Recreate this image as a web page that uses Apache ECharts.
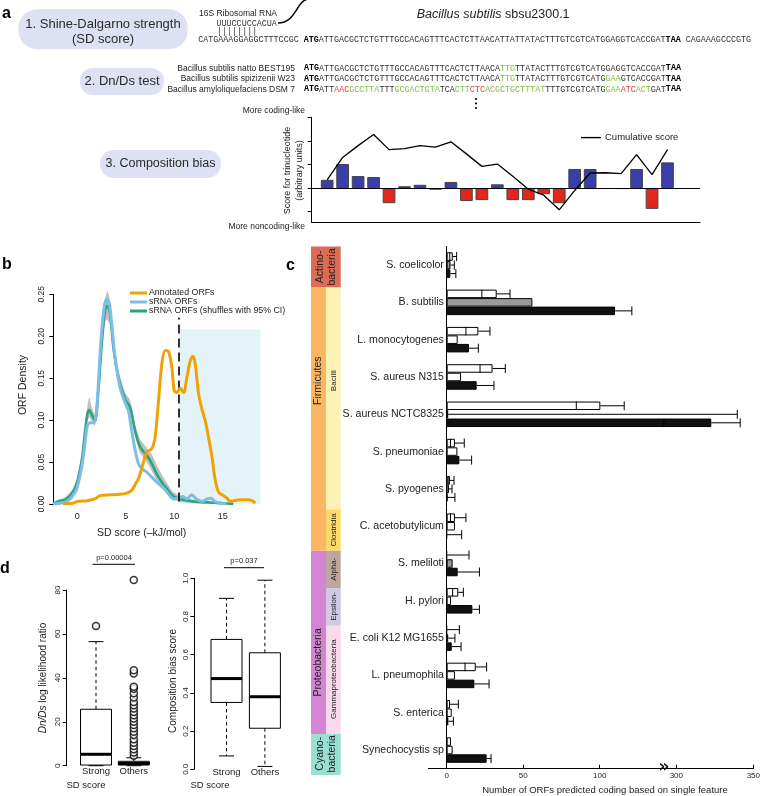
<!DOCTYPE html>
<html><head><meta charset="utf-8">
<script src="https://cdn.jsdelivr.net/npm/echarts@6/dist/echarts.min.js"></script>
<style>html,body{margin:0;padding:0;background:#fff}#c{width:762px;height:796px}</style>
</head><body><div id="c"></div>
<script>
// ---------------- DATA ----------------
// Panel a: composition bias (trinucleotide windows)
const compPos = [1,2,3,4,5,6,7,8,9,10,11,12,13,14,15,16,17,18,19,20,21,22,23];
const compScore = [0.35,1.02,0.51,0.47,-0.64,0.08,0.14,-0.07,0.26,-0.55,-0.51,0.16,-0.51,-0.51,-0.26,-0.64,0.81,0.81,null,-0.04,0.81,-0.88,1.09];
const compCumulative = [0.35,1.3,1.8,2.27,1.63,1.67,1.8,1.74,1.96,1.45,0.92,1.02,0.5,-0.05,-0.3,-0.92,-0.1,0.64,0.65,0.61,1.42,0.57,1.63];
const compTicks = [-1,0,1,2,3];

// Panel b: ORF density curves
const orangeX = [-1.5,-0.5,0.04,1.0,1.8,2.35,3.4,4.4,5.1,5.6,5.96,6.3,6.64,7.17,7.69,8.03,8.38,8.72,9.07,9.41,9.76,10.0,10.28,10.62,10.97,11.31,11.66,11.93,12.17,12.52,12.86,13.21,13.55,13.9,14.24,14.59,15.1,15.45,15.79,16.14,16.83,17.52,18.03,18.38];
const orangeY = [0,0.001,0.003,0.004,0.006,0.01,0.011,0.0115,0.013,0.016,0.023,0.03,0.042,0.062,0.066,0.08,0.123,0.167,0.183,0.182,0.163,0.135,0.133,0.138,0.133,0.151,0.171,0.176,0.167,0.131,0.113,0.099,0.079,0.056,0.028,0.014,0.010,0.007,0.003,0.004,0.005,0.005,0.004,0.001];
const blueX = [-2.5,-1.8,-1.1,-0.6,-0.07,0.45,0.79,1.03,1.31,1.66,1.93,2.17,2.41,2.76,3.03,3.31,3.55,3.9,4.41,4.93,5.28,5.62,5.97,6.31,6.66,7.17,7.69,8.2,8.9,9.41,9.93,10.45,10.9,11.3,11.8,12.3,12.9,13.4,13.8,14.2,14.8,15.4];
const blueY = [0,0.001,0.003,0.008,0.018,0.044,0.072,0.093,0.097,0.097,0.107,0.143,0.19,0.234,0.244,0.238,0.215,0.175,0.139,0.121,0.111,0.087,0.064,0.048,0.042,0.038,0.032,0.026,0.019,0.012,0.006,0.007,0.009,0.006,0.011,0.006,0.003,0.006,0.007,0.003,0.001,0];
const greenX = [-2.5,-1.97,-1.28,-0.59,-0.07,0.45,0.79,1.03,1.24,1.48,1.83,2.17,2.52,2.86,3.1,3.38,3.72,4.24,4.93,5.45,5.97,6.48,7.17,7.69,8.38,9.24,9.93,10.97,12.0,13.38,14.76,16.1];
const greenY = [0,0.003,0.005,0.012,0.024,0.052,0.085,0.107,0.112,0.107,0.099,0.135,0.191,0.231,0.236,0.227,0.187,0.151,0.125,0.115,0.087,0.068,0.058,0.048,0.032,0.018,0.009,0.005,0.003,0.002,0.001,0];
const ciLow  = [0,0.001,0.003,0.009,0.02,0.046,0.078,0.099,0.103,0.099,0.093,0.127,0.18,0.217,0.22,0.213,0.177,0.143,0.118,0.107,0.08,0.061,0.05,0.039,0.024,0.012,0.005,0.002,0.001,0,0,0];
const ciHigh = [0.002,0.005,0.008,0.016,0.029,0.058,0.092,0.116,0.127,0.116,0.106,0.144,0.203,0.245,0.254,0.242,0.198,0.16,0.133,0.124,0.095,0.077,0.067,0.059,0.042,0.025,0.014,0.008,0.005,0.003,0.002,0.001];
const sdThreshold = 10.5;
const strongRegion = [10.5, 18.9, 0.208];
const densityXTicks = [0,5,10,15];

// Panel c: ORFs predicted coding per species
const species = ['S. coelicolor','B. subtilis','L. monocytogenes','S. aureus N315','S. aureus NCTC8325','S. pneumoniae','S. pyogenes','C. acetobutylicum','S. meliloti','H. pylori','E. coli K12 MG1655','L. pneumophila','S. enterica','Synechocystis sp'];
const row1Outer = [4,32.7,20.7,30,100.4,5.4,2.2,5.4,0,7.6,0,19,2.2,2.8];
const row1Inner = [2,23,12.6,21.8,84.7,2.5,1,2.5,null,3.9,null,12,null,null];
const row1Err   = [6.5,41.4,28.3,38.3,116,11.5,4.8,12.6,14.6,10.9,8.3,26.1,7.6,null];
const row2      = [2.5,56,7.2,9.4,1,7,1.5,5.4,3.9,2.8,1,5.4,3.3,3.9];
const row2Err   = [5,null,null,null,339.6,null,3.5,null,null,null,5.4,null,null,null];
const row3      = [2.4,110,14.6,19.6,322.7,8.3,0.5,0,7.2,16.8,3.3,18.1,1.1,26.1];
const row3Err   = [6,121,20.7,30.9,341.5,16.3,5.4,9.8,21.4,21.4,9.4,27.7,4.4,29];
const greySpecies = ['S. coelicolor','B. subtilis','S. meliloti'];
const countTicksLow = [0,50,100];
const countTicksHigh = [300,350];
const axisBreak = [142, 292];
// taxonomy annotation (in category-index units)
const taxaLabels = ['Actino-\nbacteria','Firmicutes','Bacilli','Clostridia','Proteobacteria','Alpha-','Epsilon-','Gammaproteobacteria','Cyano-\nbacteria'];
const taxaFrom   = [-0.5,0.6,0.6,6.55,7.66,7.66,8.67,9.67,12.57];
const taxaTo     = [0.6,7.66,6.55,7.66,12.57,8.67,9.67,12.57,13.67];
const taxaLabelAt= [0.05,3.1,3.1,7.1,10.65,8.15,9.15,11.1,13.1];
const taxaColumn = ['both','outer','inner','inner','outer','inner','inner','inner','both'];

// Panel d: boxplots
const boxGroups = ['Strong','Others'];
const dndsBox = [[0,0.3,5.2,25.7,56.5],[0,0.3,1.0,2.0,3.6]];
const dndsOutStrong = [63.6];
const dndsOutOthers = [4.5,6,7.5,9,10.5,12,14,15.5,17,18.5,20,21.5,23,24.5,26,27.5,29,31,33,35,36,42,43.5,84.6];
const compBox = [[0.07,0.35,0.475,0.68,0.895],[0.015,0.215,0.38,0.61,0.99]];

// ---------------- STYLE ----------------
const FONT = '"Liberation Sans", Arial, sans-serif';
const MONO = '"Liberation Mono", monospace';
const taxaColor = {'Actino-\nbacteria':'#de6b56','Firmicutes':'#fbb664','Bacilli':'#fdf2b5','Clostridia':'#fcd96b','Proteobacteria':'#d385d4','Alpha-':'#bca69d','Epsilon-':'#cfcae4','Gammaproteobacteria':'#fbd9ec','Cyano-\nbacteria':'#99e0d3'};
const BW = 8.5; // bar row thickness in panel c
const MONO_SIZE = 8.4;

const chart = echarts.init(document.getElementById('c'), null, {renderer:'canvas'});

function T(x, y, text, o) {
  o = o || {};
  const st = Object.assign({text:text, fill:'#222', fontFamily:FONT, fontSize:10, fontWeight:'normal', fontStyle:'normal',
    align:'left', verticalAlign:'middle', textAlign:'left', textVerticalAlign:'middle'}, o.style || {});
  if (st.align) st.textAlign = st.align;
  if (st.verticalAlign) st.textVerticalAlign = st.verticalAlign;
  const el = {type:'text', x:x, y:y, z:10, style:st};
  if (o.rotation) el.rotation = o.rotation;
  return el;
}
function box(x, y, w, h, r) {
  return {type:'rect', z:5, shape:{x:x, y:y, width:w, height:h, r:r}, style:{fill:'#dee1f3'}};
}
const mono = {fontFamily:MONO, fontSize:MONO_SIZE};
const seqRich = {
  n: Object.assign({fill:'#333'}, mono),
  b: Object.assign({fill:'#000', fontWeight:'bold'}, mono),
  g: Object.assign({fill:'#7cc243'}, mono),
  r: Object.assign({fill:'#e8392f'}, mono)
};
function seq(x, y, text) {
  return {type:'text', x:x, y:y, z:10, style:{text:text, rich:seqRich, fontFamily:MONO, fontSize:MONO_SIZE, fill:'#333',
    align:'left', verticalAlign:'middle', textAlign:'left', textVerticalAlign:'middle'}};
}
function monoText(x, y, text) {
  return {type:'text', x:x, y:y, z:10, style:{text:text, fontFamily:MONO, fontSize:MONO_SIZE, fill:'#333',
    align:'left', verticalAlign:'middle', textAlign:'left', textVerticalAlign:'middle'}};
}

const graphics = [
  // panel letters
  T(2, 14, 'a', {style:{fontSize:16, fontWeight:'bold', fill:'#000'}}),
  T(2, 265, 'b', {style:{fontSize:16, fontWeight:'bold', fill:'#000'}}),
  T(286, 266, 'c', {style:{fontSize:16, fontWeight:'bold', fill:'#000'}}),
  T(0, 569, 'd', {style:{fontSize:16, fontWeight:'bold', fill:'#000'}}),
  // panel a boxes
  box(18.3, 9.3, 169.5, 40, 19),
  T(103, 24.5, '1. Shine-Dalgarno strength', {style:{fontSize:13, align:'center', fill:'#2a2a2a'}}),
  T(103, 39.5, '(SD score)', {style:{fontSize:13, align:'center', fill:'#2a2a2a'}}),
  box(80, 68, 84, 27, 13),
  T(122, 81.7, '2. Dn/Ds test', {style:{fontSize:13, align:'center', fill:'#2a2a2a'}}),
  box(100, 150, 121, 28, 14),
  T(160.5, 164, '3. Composition bias', {style:{fontSize:12.5, align:'center', fill:'#2a2a2a'}}),
  // SD pairing
  T(199, 13.5, '16S Ribosomal RNA', {style:{fontSize:8.5}}),
  monoText(216.5, 24, 'UUUCCUCCACUA'),
  monoText(217, 32, '||||||||'),
  {type:'bezierCurve', z:10, shape:{x1:278, y1:23, cpx1:296, cpy1:23, cpx2:296, cpy2:1, x2:308, y2:-1}, style:{stroke:'#000', lineWidth:1.5, fill:null}},
  seq(198.2, 40, '{n|CATGAAAGGAGGCTTTCCGC }{b|ATG}{n|ATTGACGCTCTGTTTGCCACAGTTTCACTCTTAACATTATTATACTTTGTCGTCATGGAGGTCACCGAT}{b|TAA}{n| CAGAAAGCCCGTG}'),
  {type:'text', x:416.7, y:15, z:10, style:{text:'{i|Bacillus subtilis} sbsu2300.1', fontFamily:FONT, fontSize:12.5, fill:'#222',
     rich:{i:{fontStyle:'italic', fontFamily:FONT, fontSize:12.5, fill:'#222'}}, align:'left', verticalAlign:'middle', textAlign:'left', textVerticalAlign:'middle'}},
  // Dn/Ds alignment
  T(295, 68.3, 'Bacillus subtilis natto BEST195', {style:{fontSize:8.5, align:'right'}}),
  T(295, 79, 'Bacillus subtilis spizizenii W23', {style:{fontSize:8.5, align:'right'}}),
  T(295, 89.3, 'Bacillus amyloliquefaciens DSM 7', {style:{fontSize:8.5, align:'right'}}),
  seq(304, 68.3, '{b|ATG}{n|ATTGACGCTCTGTTTGCCACAGTTTCACTCTTAACA}{g|TTG}{n|TTATACTTTGTCGTCATGGAGGTCACCGAT}{b|TAA}'),
  seq(304, 79, '{b|ATG}{n|ATTGACGCTCTGTTTGCCACAGTTTCACTCTTAACA}{g|TTG}{n|TTATACTTTGTCGTCATG}{g|GAA}{n|GTCACCGAT}{b|TAA}'),
  seq(304, 89.3, '{b|ATG}{n|ATT}{r|AAC}{g|GCCTTA}{n|TTT}{g|GCGACTGTA}{n|TCA}{g|CTT}{r|CTC}{g|ACGCTGCTTTAT}{n|TTTGTCGTCATG}{g|GAA}{r|ATC}{g|ACT}{n|GAT}{b|TAA}'),
  {type:'circle', z:10, shape:{cx:476, cy:99, r:1.1}, style:{fill:'#000'}},
  {type:'circle', z:10, shape:{cx:476, cy:103.5, r:1.1}, style:{fill:'#000'}},
  {type:'circle', z:10, shape:{cx:476, cy:108, r:1.1}, style:{fill:'#000'}},
  // composition chart labels
  T(305, 111, 'More coding-like', {style:{fontSize:8.5, align:'right'}}),
  T(305, 226.7, 'More noncoding-like', {style:{fontSize:8.5, align:'right'}}),
  T(288, 170.5, 'Score for trinucleotide', {rotation:Math.PI/2, style:{fontSize:9, align:'center'}}),
  T(299.5, 170.5, '(arbitrary units)', {rotation:Math.PI/2, style:{fontSize:9, align:'center'}}),
  // panel b axis titles
  T(23.3, 385, 'ORF Density', {rotation:Math.PI/2, style:{fontSize:10.5, align:'center'}}),
  T(141.7, 532.7, 'SD score (\u2013kJ/mol)', {style:{fontSize:10.5, align:'center'}}),
  // panel c
  T(664, 767.5, '\u00bb', {style:{fontSize:17, fontWeight:'bold', fill:'#111', align:'center', fontFamily:'"DejaVu Sans", sans-serif'}}),
  T(605, 790, 'Number of ORFs predicted coding based on single feature', {style:{fontSize:9.5, align:'center'}}),
  // panel d
  {type:'text', x:43.3, y:678, rotation:Math.PI/2, z:10, style:{text:'{i|Dn/Ds} log likelihood ratio', fontFamily:FONT, fontSize:10, fill:'#222',
     rich:{i:{fontStyle:'italic', fontFamily:FONT, fontSize:10, fill:'#222'}}, align:'center', verticalAlign:'middle', textAlign:'center', textVerticalAlign:'middle'}},
  T(173.3, 681, 'Composition bias score', {rotation:Math.PI/2, style:{fontSize:10, align:'center'}}),
  T(86, 785.5, 'SD score', {style:{fontSize:9.5, align:'center'}}),
  T(210, 785.5, 'SD score', {style:{fontSize:9.5, align:'center'}}),
  T(114, 558, 'p=0.00004', {style:{fontSize:7.5, align:'center'}}),
  {type:'line', z:10, shape:{x1:92.7, y1:564.3, x2:135, y2:564.3}, style:{stroke:'#000', lineWidth:1}},
  T(244, 561, 'p=0.037', {style:{fontSize:7.5, align:'center'}}),
  {type:'line', z:10, shape:{x1:224, y1:567.7, x2:264, y2:567.7}, style:{stroke:'#000', lineWidth:1}}
];

// ---------- render helpers ----------
function bandPolygon(params, api) {
  const pts = [];
  for (let i = 0; i < greenX.length; i++) pts.push(api.coord([greenX[i], ciHigh[i]]));
  for (let i = greenX.length - 1; i >= 0; i--) pts.push(api.coord([greenX[i], ciLow[i]]));
  return {type:'polygon', shape:{points:pts, smooth:0.2}, style:{fill:'rgba(170,170,170,0.75)'}};
}
function errorRenderer(lo, hi) {
  return function (params, api) {
    const i = params.dataIndex;
    const yc = api.coord([Math.max(lo, 0), i])[1];
    const X = v => api.coord([v, i])[0];
    const st = {stroke:'#000', lineWidth:1};
    const rows = [
      {v:row1Outer[i], e:row1Err[i], inner:row1Inner[i], off:-BW},
      {v:row2[i], e:row2Err[i], inner:null, off:0},
      {v:row3[i], e:row3Err[i], inner:null, off:BW}
    ];
    const kids = [];
    rows.forEach(r => {
      const y = yc + r.off;
      if (r.inner != null && r.inner > lo && r.inner < hi)
        kids.push({type:'line', shape:{x1:X(r.inner), y1:y - BW/2, x2:X(r.inner), y2:y + BW/2}, style:st});
      if (r.e == null) return;
      const s = Math.max(r.v || 0, lo), e = Math.min(r.e, hi);
      if (e > s) kids.push({type:'line', shape:{x1:X(s), y1:y, x2:X(e), y2:y}, style:st});
      if (r.e > lo && r.e <= hi)
        kids.push({type:'line', shape:{x1:X(r.e), y1:y - 4.5, x2:X(r.e), y2:y + 4.5}, style:st});
    });
    return {type:'group', children:kids};
  };
}
function taxaRenderer(params, api) {
  const k = params.dataIndex;
  const y0 = api.coord([0, 0])[1];
  const step = api.coord([0, 1])[1] - y0;
  const top = y0 + taxaFrom[k] * step, bot = y0 + taxaTo[k] * step;
  const col = taxaColumn[k];
  const x = col === 'inner' ? 326 : 311;
  const w = col === 'both' ? 29.7 : (col === 'outer' ? 15 : 14.7);
  const name = taxaLabels[k];
  const cy = y0 + taxaLabelAt[k] * step;
  const fs = col === 'inner' ? 8 : 10.5;
  return {type:'group', children:[
    {type:'rect', shape:{x:x, y:top, width:w, height:bot - top}, style:{fill:taxaColor[name]}},
    {type:'text', x:x + w/2, y:cy, rotation:Math.PI/2, z2:5,
     style:{text:name, fill:'#222', fontFamily:FONT, fontSize:fs, lineHeight:fs + 1.5, align:'center', verticalAlign:'middle', textAlign:'center', textVerticalAlign:'middle'}}
  ]};
}
function boxRenderer(boxes) {
  return function (params, api) {
    const i = params.dataIndex, b = boxes[i];
    const cx = api.coord([i, b[2]])[0];
    const P = v => api.coord([i, v])[1];
    const hw = 15.5, cw = 7.5;
    const solid = {stroke:'#000', lineWidth:1};
    const dash = {stroke:'#000', lineWidth:1, lineDash:[3.5, 3]};
    return {type:'group', children:[
      {type:'line', shape:{x1:cx, y1:P(b[3]), x2:cx, y2:P(b[4])}, style:dash},
      {type:'line', shape:{x1:cx, y1:P(b[1]), x2:cx, y2:P(b[0])}, style:dash},
      {type:'line', shape:{x1:cx - cw, y1:P(b[4]), x2:cx + cw, y2:P(b[4])}, style:solid},
      {type:'line', shape:{x1:cx - cw, y1:P(b[0]), x2:cx + cw, y2:P(b[0])}, style:solid},
      {type:'rect', shape:{x:cx - hw, y:P(b[3]), width:2*hw, height:Math.max(P(b[1]) - P(b[3]), 0.5)}, style:{fill:'#fff', stroke:'#000', lineWidth:1}},
      {type:'line', shape:{x1:cx - hw, y1:P(b[2]), x2:cx + hw, y2:P(b[2])}, style:{stroke:'#000', lineWidth:3}}
    ]};
  };
}

const noSplit = {show:false};
const hidden = {show:false};
const axisTxt = {fontFamily:FONT, color:'#222'};

const grids = [
  {left:311.7, top:117.3, width:388.3, height:105},
  {left:50.2, top:294.3, width:211.2, height:209.7},
  {left:77.3, top:294.3, width:145.35, height:209.7},
  {left:428.3, top:246.4, width:235.7, height:522.3},
  {left:664, top:246.4, width:89.3, height:522.3},
  {left:77.1, top:590, width:75.6, height:175.7},
  {left:207.3, top:578.3, width:76.8, height:191}
].map(g => Object.assign(g, {containLabel:false, outerBoundsMode:'none'}));

const blackLine = {show:true, lineStyle:{color:'#000', width:1}};

const option = {
  animation:false,
  backgroundColor:'#fff',
  textStyle:{fontFamily:FONT},
  grid:grids,
  graphic:{elements:graphics},
  legend:[
    {data:['Cumulative score'], left:581, top:132.6, icon:'rect', itemWidth:20, itemHeight:1.4, padding:0, selectedMode:false,
     textStyle:{fontSize:9.5, color:'#222', fontFamily:FONT, padding:[0,0,0,-1]}},
    {data:['Annotated ORFs','sRNA ORFs','sRNA ORFs (shuffles with 95% CI)'], orient:'vertical', left:130, top:288.5, icon:'rect',
     itemWidth:17, itemHeight:3, itemGap:0, padding:0, selectedMode:false,
     textStyle:{fontSize:8.8, color:'#222', fontFamily:FONT, padding:[0,0,0,-3]}}
  ],
  xAxis:[
    {gridIndex:0, type:'value', min:0, max:25.1, axisLine:Object.assign({onZero:false}, blackLine), axisTick:hidden, axisLabel:hidden, splitLine:noSplit},
    {gridIndex:1, type:'value', min:-2.8, max:19.0, show:false, splitLine:noSplit},
    {gridIndex:2, type:'value', min:0, max:15, interval:5, axisLine:hidden, axisTick:hidden, splitLine:noSplit,
     axisLabel:Object.assign({fontSize:9, margin:8, customValues:densityXTicks}, axisTxt)},
    {gridIndex:3, type:'value', min:-12, max:axisBreak[0], axisLine:Object.assign({onZero:false}, blackLine), splitLine:noSplit,
     axisTick:{show:true, inside:true, length:4, lineStyle:{color:'#000'}, customValues:countTicksLow},
     axisLabel:Object.assign({fontSize:8, margin:3, customValues:countTicksLow}, axisTxt)},
    {gridIndex:4, type:'value', min:axisBreak[1], max:350, axisLine:Object.assign({onZero:false}, blackLine), splitLine:noSplit,
     axisTick:{show:true, inside:true, length:4, lineStyle:{color:'#000'}, customValues:countTicksHigh},
     axisLabel:Object.assign({fontSize:8, margin:3, customValues:countTicksHigh}, axisTxt)},
    {gridIndex:5, type:'category', data:boxGroups, axisLine:hidden, axisTick:hidden, splitLine:noSplit,
     axisLabel:Object.assign({fontSize:9.5, margin:1}, axisTxt)},
    {gridIndex:6, type:'category', data:boxGroups, axisLine:hidden, axisTick:hidden, splitLine:noSplit,
     axisLabel:Object.assign({fontSize:9.5, margin:-2}, axisTxt)}
  ],
  yAxis:[
    {gridIndex:0, type:'value', min:-1.45, max:3, axisLine:Object.assign({onZero:false}, blackLine), splitLine:noSplit,
     axisTick:{show:true, length:4, lineStyle:{color:'#000'}, customValues:compTicks}, axisLabel:hidden},
    {gridIndex:1, type:'value', min:0, max:0.25, show:false, splitLine:noSplit},
    {gridIndex:2, type:'value', min:0, max:0.25, interval:0.05, offset:24, axisLine:Object.assign({onZero:false}, blackLine), splitLine:noSplit,
     axisTick:{show:true, length:4, lineStyle:{color:'#000'}},
     axisLabel:Object.assign({fontSize:8.5, rotate:90, margin:7, formatter:v => v.toFixed(2)}, axisTxt)},
    {gridIndex:3, type:'category', data:species, inverse:true, axisLine:Object.assign({onZero:true}, blackLine), axisTick:hidden, splitLine:noSplit,
     axisLabel:Object.assign({fontSize:10.6, margin:-15.6, interval:0}, axisTxt)},
    {gridIndex:4, type:'category', data:species, inverse:true, show:false},
    {gridIndex:5, type:'value', min:0, max:80, interval:20, offset:10.4, axisLine:Object.assign({onZero:false}, blackLine), splitLine:noSplit,
     axisTick:{show:true, length:4, lineStyle:{color:'#000'}},
     axisLabel:Object.assign({fontSize:8, rotate:90, margin:5}, axisTxt)},
    {gridIndex:6, type:'value', min:0, max:1, interval:0.2, offset:13, axisLine:Object.assign({onZero:false}, blackLine), splitLine:noSplit,
     axisTick:{show:true, length:4, lineStyle:{color:'#000'}},
     axisLabel:Object.assign({fontSize:8, rotate:90, margin:5, formatter:v => v.toFixed(1)}, axisTxt)}
  ],
  series:[
    // ---- panel a: composition bias
    {type:'bar', xAxisIndex:0, yAxisIndex:0, barWidth:12.7, z:2,
     data:compPos.map((x, i) => [x, compScore[i]]),
     itemStyle:{borderColor:'#444', borderWidth:1,
       color:p => (p.value[1] >= 0.1 ? '#3a3ea8' : (p.value[1] <= -0.1 ? '#e1271c' : '#555'))},
     markLine:{silent:true, symbol:'none', label:{show:false}, lineStyle:{color:'#000', width:1.2, type:'solid'}, data:[{yAxis:0}]}},
    {type:'line', name:'Cumulative score', xAxisIndex:0, yAxisIndex:0, z:3, symbol:'none', color:'#000',
     lineStyle:{color:'#000', width:1.3}, data:compPos.map((x, i) => [x, compCumulative[i]])},
    // ---- panel b
    {type:'line', xAxisIndex:1, yAxisIndex:1, data:[], z:1, symbol:'none',
     markArea:{silent:true, itemStyle:{color:'#e4f3f8'}, data:[[{coord:[strongRegion[0], 0]}, {coord:[strongRegion[1], strongRegion[2]]}]]}},
    {type:'custom', xAxisIndex:1, yAxisIndex:1, z:2, data:[[0, 0]], renderItem:bandPolygon, silent:true},
    {type:'line', name:'sRNA ORFs (shuffles with 95% CI)', xAxisIndex:1, yAxisIndex:1, z:3, symbol:'none', smooth:0.3, color:'#2aa67a',
     lineStyle:{width:2.6, color:'#2aa67a'}, data:greenX.map((x, i) => [x, greenY[i]])},
    {type:'line', name:'sRNA ORFs', xAxisIndex:1, yAxisIndex:1, z:4, symbol:'none', smooth:0.3, color:'#7dbde8',
     lineStyle:{width:3, color:'#7dbde8'}, data:blueX.map((x, i) => [x, blueY[i]])},
    {type:'line', name:'Annotated ORFs', xAxisIndex:1, yAxisIndex:1, z:5, symbol:'none', smooth:0.3, color:'#f0a204',
     lineStyle:{width:3, color:'#f0a204'}, data:orangeX.map((x, i) => [x, orangeY[i]]),
     markLine:{silent:true, symbol:'none', label:{show:false}, lineStyle:{color:'#000', width:1.6, type:[9, 5]},
       data:[[{coord:[sdThreshold, 0.003]}, {coord:[sdThreshold, 0.222]}]]}},
    // ---- panel c (low part of broken axis)
    {type:'bar', xAxisIndex:3, yAxisIndex:3, barWidth:BW, barGap:'0%', z:2, data:row1Outer,
     itemStyle:{color:'#fff', borderColor:'#000', borderWidth:1}},
    {type:'bar', xAxisIndex:3, yAxisIndex:3, barWidth:BW, barGap:'0%', z:2,
     data:row2.map((v, i) => ({value:v, itemStyle:{color:greySpecies.includes(species[i]) ? '#9a9a9a' : '#fff'}})),
     itemStyle:{color:'#fff', borderColor:'#000', borderWidth:1}},
    {type:'bar', xAxisIndex:3, yAxisIndex:3, barWidth:BW, barGap:'0%', z:2, data:row3,
     itemStyle:{color:'#111', borderColor:'#000', borderWidth:1}},
    {type:'custom', xAxisIndex:3, yAxisIndex:3, z:4, data:species.map((s, i) => [0, i]),
     renderItem:errorRenderer(-12, axisBreak[0]), silent:true},
    {type:'custom', xAxisIndex:3, yAxisIndex:3, z:0, data:taxaLabels.map((t, k) => [0, 0]),
     renderItem:taxaRenderer, silent:true, clip:false},
    // ---- panel c (high part)
    {type:'bar', xAxisIndex:4, yAxisIndex:4, barWidth:BW, barGap:'0%', z:2, data:row1Outer.map(v => v > axisBreak[1] ? v : '-'),
     itemStyle:{color:'#fff', borderColor:'#000', borderWidth:1}},
    {type:'bar', xAxisIndex:4, yAxisIndex:4, barWidth:BW, barGap:'0%', z:2, data:row2.map(v => v > axisBreak[1] ? v : '-'),
     itemStyle:{color:'#fff', borderColor:'#000', borderWidth:1}},
    {type:'bar', xAxisIndex:4, yAxisIndex:4, barWidth:BW, barGap:'0%', z:2, data:row3.map(v => v > axisBreak[1] ? v : '-'),
     itemStyle:{color:'#111', borderColor:'#000', borderWidth:1}},
    {type:'custom', xAxisIndex:4, yAxisIndex:4, z:4, data:species.map((s, i) => [axisBreak[1], i]),
     renderItem:errorRenderer(axisBreak[1], 350), silent:true},
    // ---- panel d
    {type:'custom', xAxisIndex:5, yAxisIndex:5, z:2, data:dndsBox.map((b, i) => [i, b[2]]), renderItem:boxRenderer(dndsBox), silent:true},
    {type:'scatter', xAxisIndex:5, yAxisIndex:5, z:3, clip:false, symbol:'circle', symbolSize:7,
     itemStyle:{color:'#fff', borderColor:'#000', borderWidth:1.5},
     data:dndsOutStrong.map(v => [0, v]).concat(dndsOutOthers.map(v => [1, v]))},
    {type:'custom', xAxisIndex:6, yAxisIndex:6, z:2, data:compBox.map((b, i) => [i, b[2]]), renderItem:boxRenderer(compBox), silent:true}
  ]
};
chart.setOption(option);
</script></body></html>
